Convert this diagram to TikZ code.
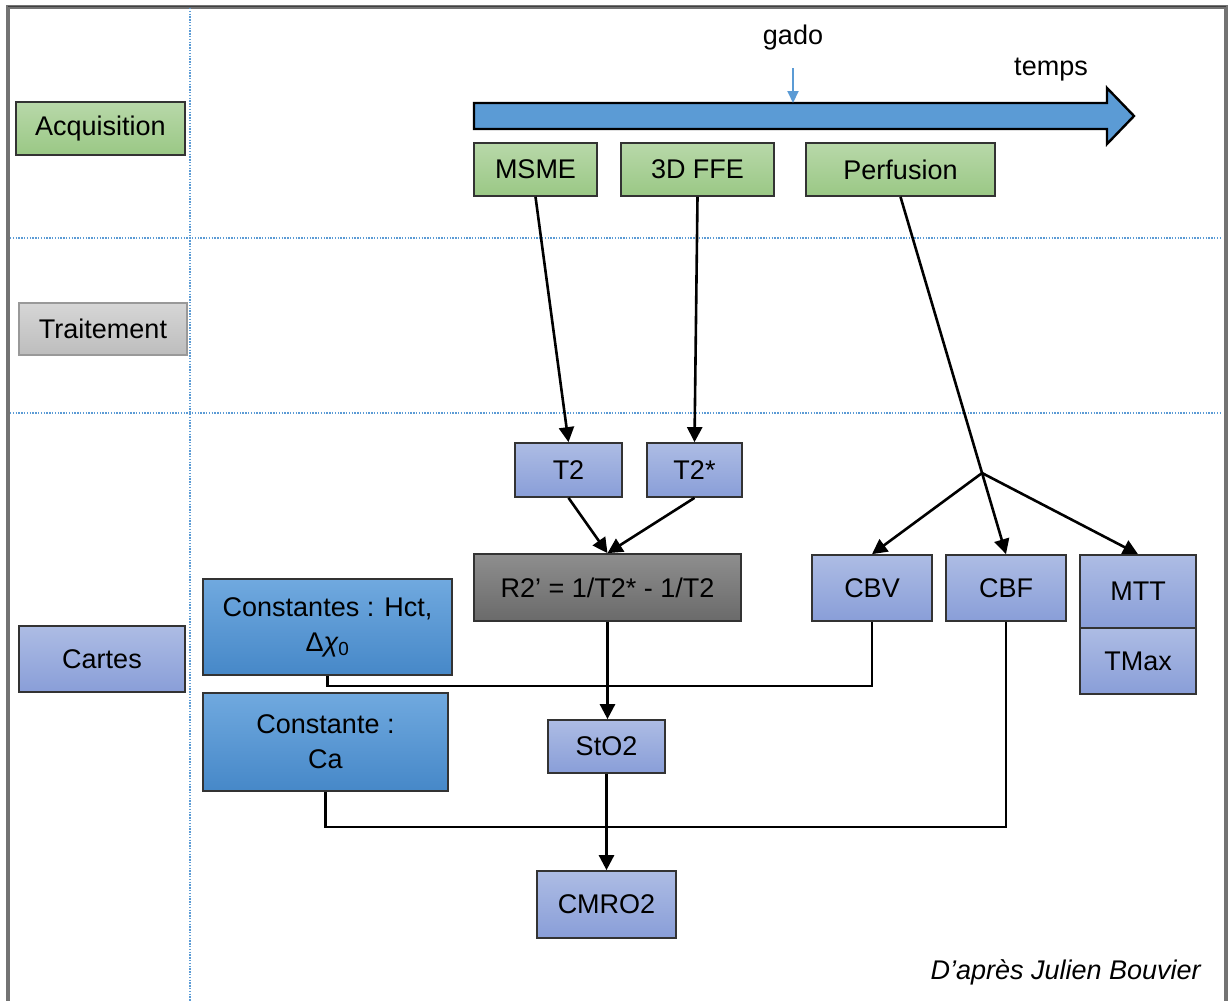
\documentclass[tikz,border=0pt]{standalone}
\usepackage{fontspec}
\setmainfont{Liberation Sans}
\usetikzlibrary{arrows.meta,calc}
\definecolor{arrblue}{HTML}{5B9BD5}
\definecolor{gtop}{HTML}{B8D8A9}
\definecolor{gbot}{HTML}{9AC885}
\definecolor{ltop}{HTML}{ADBCE4}
\definecolor{lbot}{HTML}{899ED8}
\definecolor{btop}{HTML}{70A9DF}
\definecolor{bbot}{HTML}{4688C8}
\definecolor{rtop}{HTML}{8E8E8E}
\definecolor{rbot}{HTML}{6A6A6A}
\definecolor{ttop}{HTML}{D6D6D6}
\definecolor{tbot}{HTML}{BDBDBD}
\begin{document}
\begin{tikzpicture}[x=1pt,y=-1pt,
  every node/.style={font=\fontsize{27}{35}\selectfont, inner sep=0pt},
  base/.style={draw=black!80, line width=1.7pt, align=center},
  greenbox/.style={base, top color=gtop, bottom color=gbot},
  lavbox/.style={base, top color=ltop, bottom color=lbot},
  bluebox/.style={base, top color=btop, bottom color=bbot},
  graybox/.style={base, top color=rtop, bottom color=rbot},
  lightbox/.style={base, draw=black!40, top color=ttop, bottom color=tbot},
  conn/.style={line width=2.6pt, black},
  arr/.style={conn, -{Triangle[length=15pt,width=15pt]}},
  sep/.style={arrblue, line width=1.4pt, dash pattern=on 1.4pt off 1.4pt}
]
\useasboundingbox (0,0) rectangle (1229,1001);
% frame
\draw[black!55, line width=3.5pt] (8,1001) -- (8,7) -- (1226,7) -- (1226,1001);
\draw[black!75, line width=1.5pt] (8,6.5) -- (1226,6.5);
% separators
\draw[sep] (190,8) -- (190,1001);
\draw[sep] (10,238) -- (1222,238);
\draw[sep] (10,413) -- (1222,413);

% row labels
\node[greenbox, minimum width=169pt, minimum height=53pt] (acq) at (100.5,128.5) {Acquisition};
\node[lightbox, minimum width=168pt, minimum height=52pt] (trait) at (103,329) {Traitement};
\node[lavbox, minimum width=166pt, minimum height=66pt] (cartes) at (102,659) {Cartes};

% timeline
\draw[fill=arrblue, draw=black, line width=2.4pt, line join=miter]
  (474,103) -- (1107,103) -- (1107,88) -- (1134,116) -- (1107,144) -- (1107,129) -- (474,129) -- cycle;
\node (gado) at (793,38) {gado};
\coordinate (g1) at (793,68);
\coordinate (g2) at (793,103);
\draw[arrblue, line width=2pt, -{Triangle[length=12pt,width=11pt]}] (g1) -- (g2);
\node (temps) at (1051,70) {temps};

% acquisition boxes
\node[greenbox, minimum width=123pt, minimum height=53pt] (msme) at (535.5,169.5) {MSME};
\node[greenbox, minimum width=153pt, minimum height=53pt] (ffe) at (697.5,169.5) {3D FFE};
\node[greenbox, minimum width=189pt, minimum height=53pt] (perf) at (900.5,169.5) {Perfusion};

% maps
\node[lavbox, minimum width=107pt, minimum height=54pt] (t2) at (568.5,470) {T2};
\node[lavbox, minimum width=95pt, minimum height=54pt] (t2s) at (694.5,470) {T2*};
\node[graybox, minimum width=267pt, minimum height=67pt] (r2) at (607.5,587.5) {R2’ = 1/T2* - 1/T2};
\node[lavbox, minimum width=120pt, minimum height=66pt] (cbv) at (872,588) {CBV};
\node[lavbox, minimum width=120pt, minimum height=66pt] (cbf) at (1006,588) {CBF};
\node[lavbox, minimum width=116pt, minimum height=73pt] (mtt) at (1138,591.5) {MTT};
\node[lavbox, minimum width=116pt, minimum height=66pt] (tmax) at (1138,661) {TMax};
\node[bluebox, minimum width=249pt, minimum height=96pt] (c1) at (327.5,627) {Constantes : Hct,\\Δ{\itshape χ}\textsubscript{0}};
\node[bluebox, minimum width=245pt, minimum height=98pt] (c2) at (325.5,742) {Constante :\\Ca};
\node[lavbox, minimum width=117pt, minimum height=53pt] (sto2) at (606.5,746.5) {StO2};
\node[lavbox, minimum width=139pt, minimum height=67pt] (cmro2) at (606.5,904.5) {CMRO2};

% connectors
\draw[arr] (msme.south) -- (t2.north);
\draw[arr] (ffe.south) -- (t2s.north);
\coordinate (br) at ($(perf.south)!0.773!(cbf.north)$);
\draw[arr] (perf.south) -- (cbf.north);
\draw[arr] (br) -- (cbv.north);
\draw[arr] (br) -- (mtt.north);
\draw[arr] (t2.south) -- (r2.north);
\draw[arr] (t2s.south) -- (r2.north);
\draw[conn] (c1.south) -- ++(0,10) -| (cbv.south);
\draw[conn] (c2.south) -- ++(0,35) -| (cbf.south);
\draw[arr] (r2.south) -- (r2.south |- sto2.north);
\draw[arr] (sto2.south) -- (sto2.south |- cmro2.north);

\node[anchor=east, font=\fontsize{27}{30}\selectfont\itshape] (credit) at (1201,972) {D’après Julien Bouvier};
\end{tikzpicture}
\end{document}
